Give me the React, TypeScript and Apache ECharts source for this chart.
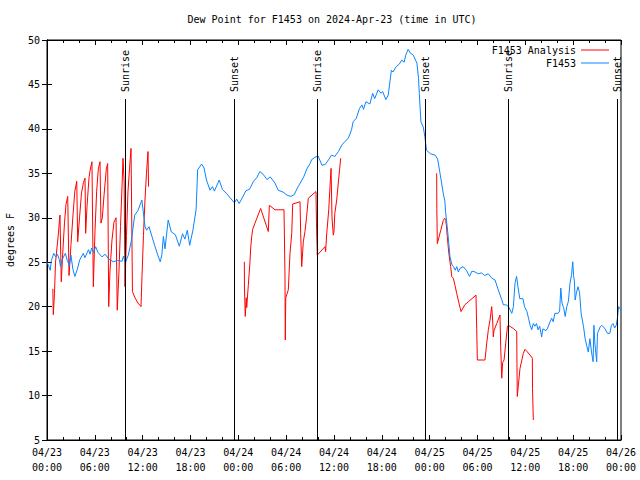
import { useEffect, useRef } from 'react';
import * as echarts from 'echarts';

const FONT = '"DejaVu Sans Mono", "Liberation Mono", monospace';

const chartTitle = 'Dew Point for F1453 on 2024-Apr-23 (time in UTC)';
const yAxisTitle = 'degrees F';
const analysisName = 'F1453 Analysis';
const obsName = 'F1453';

// x values are hours since 04/23 00:00 UTC
const xTickLabels = [
  '04/23\n00:00', '04/23\n06:00', '04/23\n12:00', '04/23\n18:00',
  '04/24\n00:00', '04/24\n06:00', '04/24\n12:00', '04/24\n18:00',
  '04/25\n00:00', '04/25\n06:00', '04/25\n12:00', '04/25\n18:00',
  '04/26\n00:00',
];

const sunEventTimes = [9.87, 23.46, 33.9, 47.46, 57.9, 71.55];
const sunEventNames = ['Sunrise', 'Sunset', 'Sunrise', 'Sunset', 'Sunrise', 'Sunset'];
const sunLineTop = 43.36;

const analysisDay1 = [
  [0.73, 22.0], [0.79, 19.1], [0.94, 21.5], [1.07, 25.0], [1.25, 26.6], [1.44, 28.3], [1.57, 29.8],
  [1.63, 30.3], [1.79, 22.8], [2.01, 26.6], [2.2, 29.5], [2.38, 31.5], [2.6, 32.4], [2.76, 23.5],
  [3.01, 27.0], [3.26, 30.3], [3.49, 33.0], [3.73, 34.1], [3.85, 27.3], [4.08, 30.0], [4.33, 32.8],
  [4.58, 34.0], [4.77, 34.45], [4.85, 28.25], [5.02, 31.3], [5.27, 34.5], [5.46, 35.6], [5.64, 36.3],
  [5.81, 22.25], [6.02, 28.5], [6.23, 33.0], [6.44, 35.5], [6.65, 36.3], [6.77, 29.4], [6.94, 30.0],
  [7.15, 32.5], [7.44, 35.5], [7.61, 36.1], [7.74, 20.0], [7.9, 24.0], [8.15, 27.5], [8.4, 29.5],
  [8.66, 30.0], [8.81, 19.6], [9.03, 24.0], [9.22, 29.0], [9.41, 33.5], [9.53, 36.7], [9.68, 34.0],
  [9.78, 22.25], [9.97, 28.0], [10.16, 33.0], [10.35, 35.5], [10.54, 37.8], [10.72, 21.7],
  [11.04, 21.0], [11.42, 20.4], [11.79, 20.0], [11.92, 23.5], [12.1, 28.0], [12.29, 32.0],
  [12.48, 35.0], [12.67, 37.45], [12.74, 33.5],
];

const analysisDay2 = [
  [24.75, 25.05], [24.77, 22.1], [24.87, 18.9], [24.99, 21.0], [25.05, 19.9], [25.25, 22.4],
  [25.46, 25.05], [25.55, 26.6], [25.68, 27.9], [25.8, 28.7], [26.09, 29.4], [26.8, 31.05],
  [27.76, 28.45], [27.89, 31.4], [28.6, 30.9], [29.73, 30.9], [29.85, 23.55], [29.89, 16.25],
  [29.95, 21.0], [30.27, 21.9], [30.48, 26.0], [30.7, 28.25], [30.82, 31.55], [31.74, 31.8],
  [31.82, 28.25], [31.95, 24.5], [32.15, 27.3], [32.36, 28.45], [32.55, 30.0], [32.78, 32.2],
  [33.74, 32.95], [33.8, 29.5], [33.9, 25.8], [34.87, 26.75], [34.95, 26.2], [35.09, 28.25],
  [35.34, 30.9], [35.5, 33.5], [35.63, 35.55], [35.75, 30.0], [35.91, 28.05], [36.0, 28.5],
  [36.1, 30.5], [36.34, 32.0], [36.6, 34.5], [36.84, 36.7],
];

const analysisDay3 = [
  [48.88, 35.0], [48.9, 31.05], [48.96, 27.1], [49.08, 27.5], [49.39, 28.6], [49.71, 29.7],
  [49.89, 29.95], [50.01, 29.7], [50.09, 29.2], [50.21, 27.9], [50.34, 26.6], [50.46, 25.6],
  [50.64, 24.5], [50.77, 23.4], [50.97, 23.2], [51.2, 22.3], [51.39, 21.5], [51.65, 20.5],
  [51.93, 19.45], [52.4, 20.2], [52.85, 20.55], [53.81, 21.3], [53.9, 17.55], [53.98, 14.0],
  [54.94, 14.0], [55.16, 15.9], [55.36, 17.4], [55.57, 18.5], [55.78, 20.0], [55.9, 18.5],
  [55.98, 16.6], [56.07, 17.3], [56.41, 18.1], [56.82, 19.06], [56.91, 15.5], [57.04, 11.95],
  [57.15, 13.7], [57.33, 14.0], [57.58, 16.25], [57.75, 17.7], [57.86, 17.9], [58.49, 17.55],
  [58.92, 17.2], [58.95, 13.6], [58.99, 9.9], [59.11, 11.0], [59.33, 13.05], [59.54, 13.9],
  [59.75, 14.75], [59.96, 15.2], [60.17, 15.0], [60.59, 14.55], [60.88, 14.2], [60.9, 10.8],
  [61.0, 7.25],
];

const observed = [
  [0.0, 25.0], [0.2, 24.6], [0.4, 24.1], [0.55, 25.2], [0.85, 26.0], [1.1, 25.6], [1.3, 25.9],
  [1.55, 25.3], [1.7, 24.5], [1.9, 25.3], [2.3, 26.0], [2.55, 25.2], [2.8, 24.6], [3.0, 25.8],
  [3.25, 24.2], [3.5, 23.4], [3.8, 24.2], [4.1, 25.25], [4.55, 26.0], [4.75, 25.5], [5.2, 26.4],
  [5.4, 25.9], [5.6, 26.6], [5.85, 26.1], [6.1, 26.75], [6.4, 26.1], [6.9, 25.6], [7.3, 25.9],
  [7.7, 25.4], [8.3, 25.05], [8.8, 25.2], [9.4, 25.1], [9.6, 25.7], [9.8, 24.9], [10.2, 25.8],
  [10.6, 27.5], [11.0, 30.3], [11.4, 30.8], [11.9, 32.0], [12.3, 29.0], [12.5, 28.6], [12.8, 29.0],
  [13.0, 28.4], [13.5, 26.9], [13.9, 25.8], [14.2, 25.05], [14.4, 25.8], [14.6, 27.9], [14.8, 26.5],
  [15.2, 29.75], [15.6, 28.4], [16.1, 28.1], [16.6, 26.8], [17.0, 28.2], [17.3, 27.6], [17.6, 28.6],
  [17.9, 26.9], [18.3, 28.6], [18.7, 30.9], [18.9, 35.4], [19.4, 36.05], [19.7, 35.6], [20.0, 34.25],
  [20.45, 33.1], [20.75, 33.5], [21.0, 33.0], [21.6, 34.25], [22.0, 33.2], [22.5, 32.75],
  [23.2, 32.0], [23.5, 31.7], [23.8, 32.1], [24.1, 31.6], [24.4, 32.1], [24.96, 33.05],
  [25.4, 33.2], [25.9, 34.1], [26.3, 34.5], [26.7, 35.2], [27.1, 34.9], [27.6, 34.3], [28.0, 34.6],
  [28.6, 33.9], [29.0, 33.1], [29.6, 32.9], [30.1, 32.55], [30.6, 32.4], [31.0, 32.6], [31.5, 33.5],
  [32.2, 34.6], [32.6, 35.5], [33.0, 36.1], [33.2, 36.55], [33.6, 36.8], [34.0, 36.95], [34.5, 35.9],
  [34.9, 36.0], [35.3, 36.5], [35.7, 37.05], [36.1, 36.9], [36.55, 37.45], [37.0, 38.2], [37.4, 38.6],
  [37.8, 38.95], [38.2, 39.9], [38.4, 40.8], [38.8, 41.2], [39.2, 42.3], [39.5, 42.7], [39.7, 42.2],
  [40.0, 43.05], [40.5, 42.8], [40.85, 44.0], [41.1, 43.4], [41.55, 44.4], [41.9, 44.0], [42.1, 44.2],
  [42.5, 43.3], [42.8, 43.8], [43.2, 46.6], [43.4, 46.4], [43.8, 47.0], [44.2, 47.3], [44.5, 47.75],
  [44.8, 47.5], [45.0, 48.3], [45.3, 48.95], [45.6, 48.5], [45.95, 48.3], [46.4, 47.4], [46.6, 45.7],
  [46.7, 44.0], [46.9, 40.8], [47.2, 40.2], [47.4, 39.1], [47.6, 37.6], [48.1, 37.2], [48.7, 37.05],
  [49.0, 36.6], [49.3, 35.0], [49.5, 33.9], [49.7, 32.75], [49.9, 31.9], [50.0, 30.6], [50.2, 29.0],
  [50.4, 27.1], [50.55, 25.6], [50.8, 24.7], [51.0, 24.5], [51.2, 24.1], [51.4, 24.5], [51.6, 23.9],
  [51.8, 24.3], [52.2, 24.5], [52.6, 24.1], [53.0, 23.4], [53.3, 24.0], [53.7, 23.9], [54.1, 23.7],
  [54.5, 23.8], [54.9, 23.5], [55.35, 23.7], [55.8, 23.2], [56.2, 23.0], [56.6, 21.9], [57.0, 20.9],
  [57.25, 20.2], [57.6, 20.2], [57.9, 20.0], [58.3, 19.25], [58.5, 20.0], [58.7, 22.6], [58.9, 23.4],
  [59.1, 22.1], [59.3, 20.9], [59.7, 20.9], [59.9, 20.0], [60.2, 19.45], [60.4, 18.7], [60.6, 17.9],
  [60.8, 17.4], [61.0, 18.1], [61.2, 17.8], [61.4, 18.1], [61.6, 17.4], [61.8, 17.8], [62.05, 16.6],
  [62.2, 17.5], [62.6, 17.3], [62.8, 17.6], [63.1, 18.3], [63.3, 18.7], [63.5, 18.3], [63.7, 19.25],
  [64.1, 19.25], [64.3, 19.5], [64.45, 22.1], [64.6, 20.4], [64.8, 19.9], [65.0, 18.9], [65.2, 20.0],
  [65.4, 20.6], [65.6, 22.6], [65.8, 23.6], [65.95, 25.05], [66.05, 23.5], [66.15, 22.9],
  [66.25, 20.75], [66.4, 21.5], [66.6, 22.25], [66.8, 21.6], [67.0, 19.25], [67.3, 17.75],
  [67.5, 16.4], [67.7, 15.6], [67.9, 14.9], [68.1, 16.4], [68.3, 14.9], [68.5, 13.8], [68.6, 17.9],
  [68.7, 16.1], [68.8, 15.2], [68.95, 13.8], [69.05, 17.0], [69.4, 17.75], [69.6, 17.9], [70.0, 17.5],
  [70.3, 17.0], [70.6, 17.0], [70.8, 17.9], [71.0, 18.1], [71.2, 17.6], [71.4, 17.9], [71.55, 18.7],
  [71.7, 20.0], [72.0, 19.6],
];

const RED = '#ff0000';
const BLUE = '#0a84ff';

export default function App() {
  const ref = useRef<HTMLDivElement>(null);
  useEffect(() => {
    const chart = echarts.init(ref.current!, null, { renderer: 'svg' });
    const tickLine = { show: true, inside: true, length: 5, lineStyle: { color: '#000', width: 1 } };
    const minor = { show: true, splitNumber: 3, length: 3, lineStyle: { color: '#000', width: 1 } };
    const redSeries = [analysisDay1, analysisDay2, analysisDay3].map((d) => ({
      name: analysisName,
      type: 'line',
      data: d,
      symbol: 'none',
      lineStyle: { color: RED, width: 1 },
      itemStyle: { color: RED },
      xAxisIndex: 0,
      yAxisIndex: 0,
      z: 2,
    }));
    chart.setOption({
      animation: false,
      backgroundColor: '#fff',
      title: {
        text: chartTitle,
        left: 332,
        top: 14,
        textAlign: 'center',
        padding: 0,
        textStyle: { fontFamily: FONT, fontSize: 10, fontWeight: 'normal', color: '#000' },
      },
      legend: {
        orient: 'vertical',
        right: 31,
        top: 44,
        align: 'right',
        icon: 'rect',
        itemWidth: 28,
        itemHeight: 1,
        itemGap: 1,
        padding: 0,
        data: [analysisName, obsName],
        textStyle: { fontFamily: FONT, fontSize: 10, color: '#000', width: 88, lineHeight: 12 },
      },
      grid: {
        left: 47,
        right: 19,
        top: 40,
        bottom: 40,
        containLabel: false,
        outerBoundsMode: 'none',
        show: true,
        borderColor: '#000',
        borderWidth: 1,
        backgroundColor: 'transparent',
      },
      xAxis: [
        {
          type: 'value',
          min: 0,
          max: 72,
          interval: 6,
          position: 'bottom',
          axisLine: { show: true, lineStyle: { color: '#000', width: 1 } },
          axisTick: tickLine,
          minorTick: minor,
          splitLine: { show: false },
          axisLabel: {
            show: true,
            margin: 5,
            fontFamily: FONT,
            fontSize: 10,
            lineHeight: 15,
            color: '#000',
            formatter: (v: number) => xTickLabels[Math.round(v / 6)] ?? '',
          },
        },
        {
          type: 'value',
          min: 0,
          max: 72,
          interval: 6,
          position: 'top',
          axisLine: { show: true, lineStyle: { color: '#000', width: 1 } },
          axisTick: tickLine,
          minorTick: minor,
          splitLine: { show: false },
          axisLabel: { show: false },
        },
      ],
      yAxis: [
        {
          type: 'value',
          min: 5,
          max: 50,
          interval: 5,
          position: 'left',
          name: yAxisTitle,
          nameLocation: 'middle',
          nameRotate: 90,
          nameGap: 32,
          nameTextStyle: { fontFamily: FONT, fontSize: 10, color: '#000' },
          axisLine: { show: true, lineStyle: { color: '#000', width: 1 } },
          axisTick: tickLine,
          splitLine: { show: false },
          axisLabel: { margin: 7, fontFamily: FONT, fontSize: 10, color: '#000' },
        },
        {
          type: 'value',
          min: 5,
          max: 50,
          interval: 5,
          position: 'right',
          axisLine: { show: true, lineStyle: { color: '#000', width: 1 } },
          axisTick: tickLine,
          splitLine: { show: false },
          axisLabel: { show: false },
        },
      ],
      series: [
        ...redSeries,
        {
          name: obsName,
          type: 'line',
          data: observed,
          symbol: 'none',
          lineStyle: { color: BLUE, width: 1 },
          itemStyle: { color: BLUE },
          xAxisIndex: 0,
          yAxisIndex: 0,
          z: 3,
          markLine: {
            silent: true,
            symbol: 'none',
            animation: false,
            label: { show: false },
            lineStyle: { color: '#000', width: 1, type: 'solid' },
            data: sunEventTimes.map((h) => [
              { coord: [h, 5] },
              { coord: [h, sunLineTop] },
            ]),
          },
        },
      ],
    });
    const texts = sunEventTimes.map((h, i) => {
      const p = chart.convertToPixel({ xAxisIndex: 0, yAxisIndex: 0 }, [h, sunLineTop]) as number[];
      return {
        type: 'text',
        x: p[0],
        y: p[1] - 7,
        rotation: Math.PI / 2,
        z: 10,
        style: {
          text: sunEventNames[i],
          fontFamily: FONT,
          fontSize: 10,
          fill: '#000',
          align: 'left',
          verticalAlign: 'middle',
          textAlign: 'left',
          textVerticalAlign: 'middle',
        },
      };
    });
    chart.setOption({ graphic: texts });
    return () => chart.dispose();
  }, []);
  return (
    <div
      ref={ref}
      style={{ position: 'absolute', left: 0, top: 0, width: 640, height: 480 }}
    />
  );
}
